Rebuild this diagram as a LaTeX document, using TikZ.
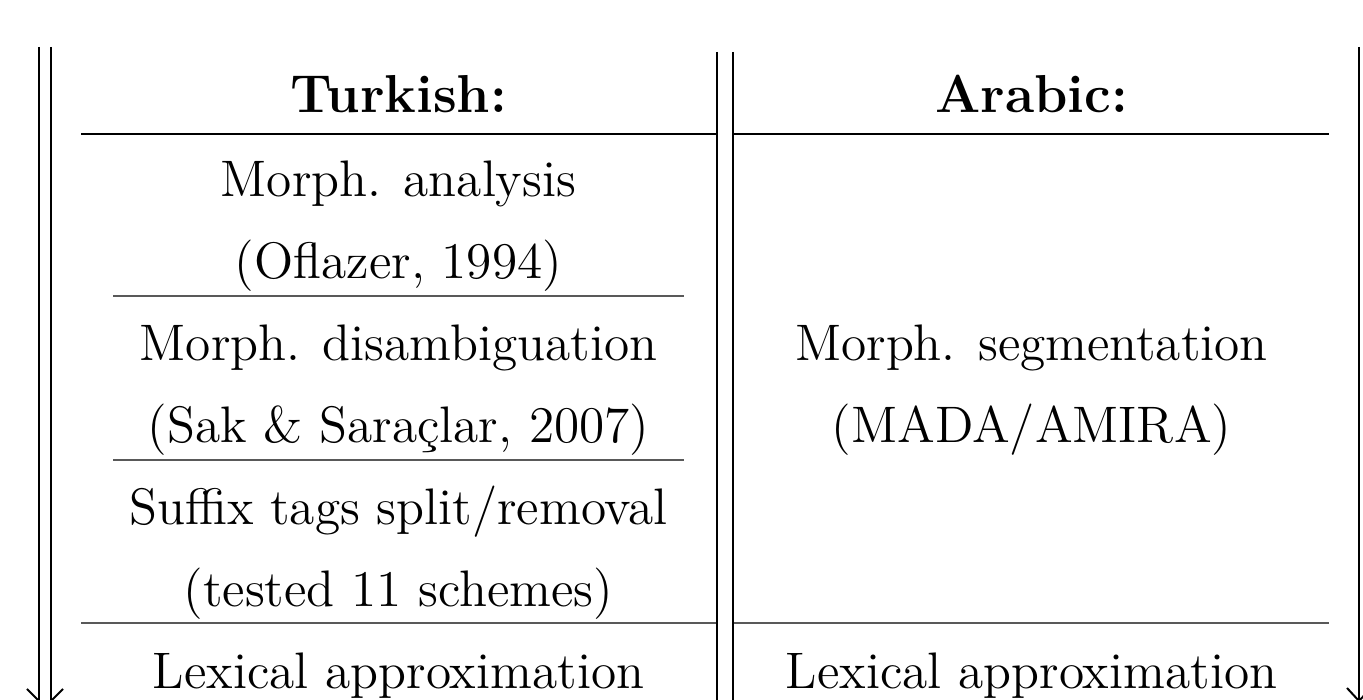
\documentclass[tikz,border=0pt]{standalone}
\newcommand{\celltext}[1]{\scalebox{0.856}{\fontsize{12}{14}\selectfont #1}}
\newcommand{\headtext}[1]{\scalebox{0.89}{\fontsize{12}{14}\selectfont\bfseries #1}}
\begin{document}
\begin{tikzpicture}[x=0.2pt,y=-0.2pt,
  cell/.style={anchor=base,inner sep=0pt},
  toprl/.style={line width=0.3pt,black},
  rl/.style={line width=0.22pt,black!65},
  vthick/.style={line width=0.4pt,black},
  vthin/.style={line width=0.28pt,black}]
\useasboundingbox (0,0) rectangle (1363,700);
% headers
\node[cell] (tk) at (398.5,113) {\headtext{Turkish:}};
\node[cell] (ar) at (1031.5,113) {\headtext{Arabic:}};
% Turkish column
\node[cell] (t1a) at (398.5,197) {\celltext{Morph. analysis}};
\node[cell] (t1b) at (398.5,279) {\celltext{(Oflazer, 1994)}};
\node[cell] (t2a) at (398.5,361) {\celltext{Morph. disambiguation}};
\node[cell] (t2b) at (398.5,443) {\celltext{(Sak \& Sara\c{c}lar, 2007)}};
\node[cell] (t3a) at (398.5,525) {\celltext{Suffix tags split/removal}};
\node[cell] (t3b) at (398.5,607) {\celltext{(tested 11 schemes)}};
\node[cell] (t4) at (398.5,689) {\celltext{Lexical approximation}};
% Arabic column
\node[cell] (a1a) at (1031.5,361) {\celltext{Morph. segmentation}};
\node[cell] (a1b) at (1031.5,443) {\celltext{(MADA/AMIRA)}};
\node[cell] (a2) at (1031.5,689) {\celltext{Lexical approximation}};
% horizontal rules
\coordinate (hl1) at (81,134); \coordinate (hl2) at (716,134);
\coordinate (hr1) at (734,134); \coordinate (hr2) at (1329,134);
\draw[toprl] (hl1) -- (hl2);
\draw[toprl] (hr1) -- (hr2);
\coordinate (m1a) at (113,296); \coordinate (m1b) at (684,296);
\coordinate (m2a) at (113,460); \coordinate (m2b) at (684,460);
\draw[rl] (m1a) -- (m1b);
\draw[rl] (m2a) -- (m2b);
\coordinate (bl1) at (81,623); \coordinate (bl2) at (716,623);
\coordinate (br1) at (734,623); \coordinate (br2) at (1329,623);
\draw[rl] (bl1) -- (bl2);
\draw[rl] (br1) -- (br2);
% middle double line
\coordinate (md1t) at (717,52); \coordinate (md1b) at (717,702);
\coordinate (md2t) at (733,52); \coordinate (md2b) at (733,702);
\draw[vthin] (md1t) -- (md1b);
\draw[vthin] (md2t) -- (md2b);
% left double arrow
\coordinate (la1t) at (39,47); \coordinate (la1b) at (39,701);
\coordinate (la2t) at (51,47); \coordinate (la2b) at (51,701);
\coordinate (ltip) at (45,707);
\draw[vthick] (la1t) -- (la1b);
\draw[vthick] (la2t) -- (la2b);
\draw[vthick] (27,689) -- (ltip) -- (63,689);
% right arrow
\coordinate (rat) at (1359,47); \coordinate (rtip) at (1359,701);
\draw[vthick] (rat) -- (rtip);
\draw[vthick] (1347,688) -- (rtip) -- (1371,688);
\end{tikzpicture}
\end{document}
